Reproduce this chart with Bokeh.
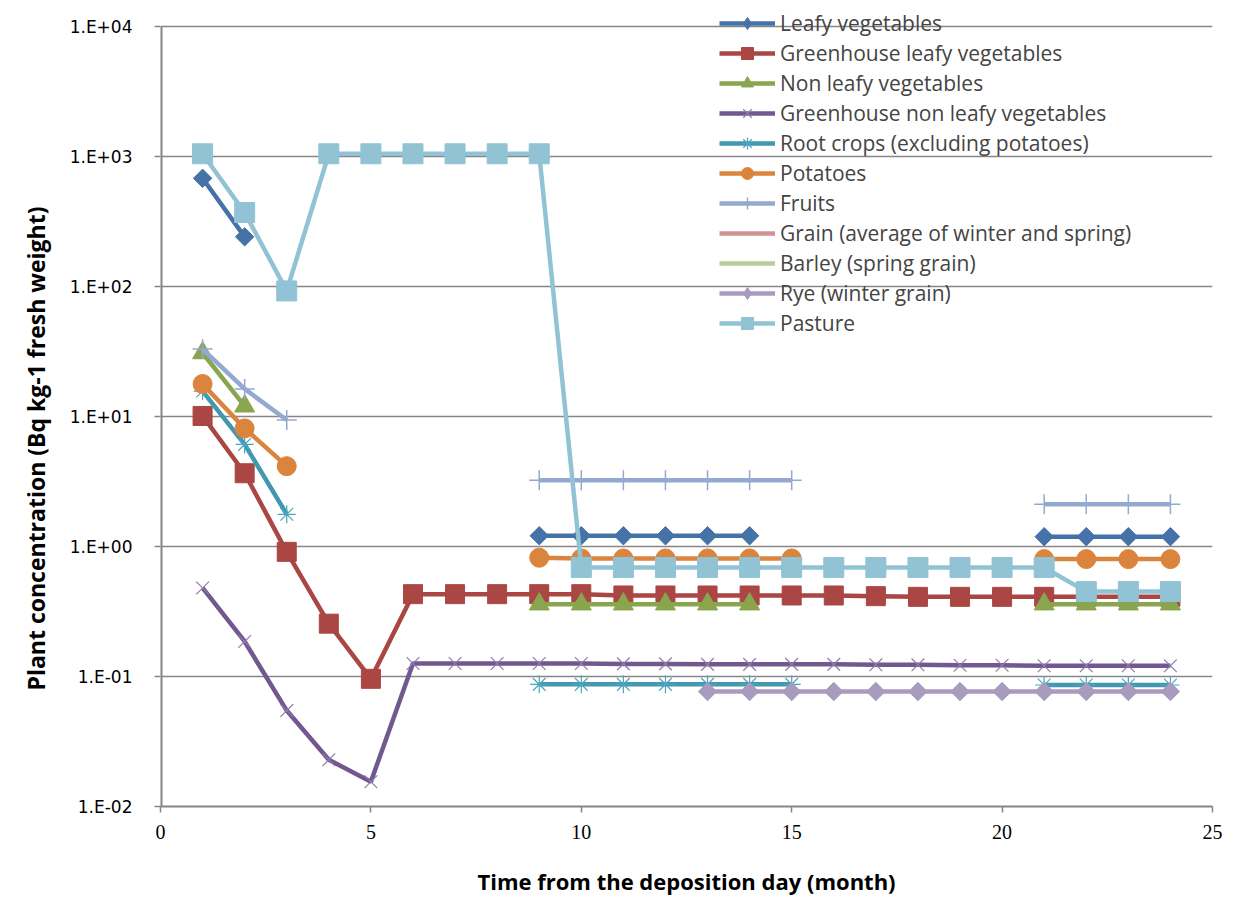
import numpy as np
from bokeh.plotting import figure
from bokeh.models import Legend, LegendItem, CustomJSTickFormatter, FixedTicker, ColumnDataSource, Title
from bokeh.embed import file_html
from bokeh.resources import INLINE

months = list(range(1, 25))
N = None
# values per month 1..24 (None = no value)
leafy = [680, 241, N, N, N, N, N, N, 1.21, 1.21, 1.21, 1.21, 1.21, 1.21, N, N, N, N, N, N, 1.19, 1.19, 1.19, 1.19]
gh_leafy = [10.1, 3.66, 0.91, 0.255, 0.096, 0.43, 0.43, 0.43, 0.43, 0.43, 0.42, 0.42, 0.42, 0.42, 0.42, 0.42, 0.415, 0.41, 0.41, 0.41, 0.41, 0.41, 0.41, 0.41]
nonleafy = [30.8, 12.0, N, N, N, N, N, N, 0.36, 0.36, 0.36, 0.36, 0.36, 0.36, N, N, N, N, N, N, 0.36, 0.36, 0.36, 0.36]
gh_nonleafy = [0.48, 0.186, 0.0547, 0.0229, 0.0155, 0.126, 0.126, 0.126, 0.126, 0.126, 0.125, 0.125, 0.124, 0.124, 0.124, 0.124, 0.123, 0.123, 0.122, 0.122, 0.121, 0.121, 0.121, 0.121]
root = [15.7, 6.1, 1.77, N, N, N, N, N, 0.087, 0.087, 0.087, 0.087, 0.087, 0.087, 0.087, N, N, N, N, N, 0.086, 0.086, 0.086, 0.086]
potatoes = [17.8, 8.1, 4.15, N, N, N, N, N, 0.82, 0.81, 0.81, 0.81, 0.81, 0.81, 0.81, N, N, N, N, N, 0.80, 0.80, 0.80, 0.80]
fruits = [33, 16.3, 9.4, N, N, N, N, N, 3.24, 3.24, 3.24, 3.24, 3.24, 3.24, 3.24, N, N, N, N, N, 2.11, 2.11, 2.11, 2.11]
grain = [N] * 24
barley = [N] * 24
rye = [N, N, N, N, N, N, N, N, N, N, N, N, 0.0766, 0.0766, 0.0766, 0.0766, 0.0766, 0.0766, 0.0766, 0.0766, 0.0766, 0.0766, 0.0766, 0.0766]
pasture = [1050, 371, 92.5, 1050, 1050, 1050, 1050, 1050, 1050, 0.69, 0.69, 0.69, 0.69, 0.69, 0.69, 0.69, 0.69, 0.69, 0.69, 0.69, 0.69, 0.45, 0.45, 0.45]

x_ticks = [0, 5, 10, 15, 20, 25]
y_ticks = [0.01, 0.1, 1, 10, 100, 1000, 10000]
y_title = "Plant concentration (Bq kg-1 fresh weight)"
x_title = "Time from the deposition day (month)"

series = [
    ("Leafy vegetables", leafy, "#4572A7", dict(marker="square", size=13, angle=np.pi / 4, legend_marker="diamond")),
    ("Greenhouse leafy vegetables", gh_leafy, "#AA4643", dict(marker="square", size=19)),
    ("Non leafy vegetables", nonleafy, "#89A54E", dict(marker="triangle", size=20)),
    ("Greenhouse non leafy vegetables", gh_nonleafy, "#71588F", dict(marker="x", size=18, line_width=1.2, line_color="#8E7CAB", fill_alpha=0)),
    ("Root crops (excluding potatoes)", root, "#4198AF", dict(marker="asterisk", size=18, line_width=1.2, line_color="#4BA5BD", fill_alpha=0)),
    ("Potatoes", potatoes, "#DB843D", dict(marker="circle", size=19)),
    ("Fruits", fruits, "#93A9CF", dict(marker="cross", size=20, line_width=1.5)),
    ("Grain (average of winter and spring)", grain, "#D19392", None),
    ("Barley (spring grain)", barley, "#B9CD96", None),
    ("Rye (winter grain)", rye, "#A99BBD", dict(marker="square", size=13, angle=np.pi / 4, legend_marker="diamond")),
    ("Pasture", pasture, "#91C3D5", dict(marker="square", size=20)),
]

# frame reaches a little above 1.E+04 so the legend (which overhangs the top gridline) is not clipped
PX_PER_DECADE = 129.8
TOP_PAD = 21
y_end = y_ticks[-1] * 10 ** (TOP_PAD / PX_PER_DECADE)

p = figure(width=1235, height=899, y_axis_type="log", x_range=(0, 25), y_range=(y_ticks[0], y_end),
           output_backend="svg", toolbar_location=None,
           min_border_left=160, min_border_right=23, min_border_top=26 - TOP_PAD, min_border_bottom=93)
p.outline_line_color = None
p.xgrid.visible = False
p.ygrid.grid_line_color = "#868686"
p.ygrid.grid_line_width = 1.5
p.background_fill_color = "white"

p.xaxis.ticker = FixedTicker(ticks=x_ticks)
p.yaxis.ticker = FixedTicker(ticks=y_ticks)
p.yaxis.formatter = CustomJSTickFormatter(code="""
const e = Math.round(Math.log10(tick));
return "1.E" + (e < 0 ? "-" : "+") + String(Math.abs(e)).padStart(2, "0");
""")
for ax in (p.xaxis[0], p.yaxis[0]):
    ax.axis_line_color = "#868686"
    ax.axis_line_width = 2
    ax.major_tick_line_color = "#868686"
    ax.major_tick_line_width = 1.5
    ax.major_tick_in = 0
    ax.major_tick_out = 6
    ax.minor_tick_line_color = None
    ax.major_label_text_color = "black"
    ax.axis_label_text_color = "black"
    ax.axis_label_text_font_style = "bold"

# vertical axis line only between the first and last tick
p.yaxis.axis_line_color = None
p.segment(x0=[0], y0=[y_ticks[0]], x1=[0], y1=[y_ticks[-1]], line_color="#868686", line_width=4)

p.yaxis.major_label_text_font = "DejaVu Sans"
p.yaxis.major_label_text_font_size = "17px"
p.yaxis.major_label_standoff = 22

p.add_layout(Title(text=y_title, align="left", offset=116, standoff=30,
                   text_font="Open Sans", text_font_size="23px", text_font_style="bold",
                   text_color="black"), "left")

p.xaxis.major_label_text_font = "Liberation Sans Narrow"
p.xaxis.major_label_text_font_size = "20px"
p.xaxis.major_label_standoff = 12
p.xaxis.axis_label = x_title
p.xaxis.axis_label_text_font = "Open Sans"
p.xaxis.axis_label_text_font_size = "22px"
p.xaxis.axis_label_standoff = 24

items = []
for label, vals, color, mk in series:
    y = [np.nan if v is None else v for v in vals]
    src = ColumnDataSource(dict(x=months, y=y))
    rends = []
    rends.append(p.line("x", "y", source=src, line_color=color, line_width=4.5))
    if mk is not None:
        kw = dict(mk)
        marker = kw.pop("marker")
        size = kw.pop("size")
        lc = kw.pop("line_color", color)
        lw = kw.pop("line_width", 1)
        fa = kw.pop("fill_alpha", 1)
        ang = kw.pop("angle", 0)
        lm = kw.pop("legend_marker", None)
        r = p.scatter("x", "y", source=src, marker=marker, size=size, angle=ang,
                      fill_color=color, fill_alpha=fa, line_color=lc, line_width=lw)
        if lm is None:
            rends.append(r)
        else:
            rends.append(p.scatter(x=[np.nan], y=[np.nan], marker=lm, size=size, fill_color=color,
                                   line_color=lc, line_width=lw))
    items.append(LegendItem(label=label, renderers=rends))

legend = Legend(items=items, location=(559, 468), padding=0, margin=0, spacing=0,
                glyph_width=56, glyph_height=30, label_height=30, label_standoff=5,
                label_text_font="Open Sans", label_text_font_size="21px",
                background_fill_alpha=0, border_line_alpha=0)
p.add_layout(legend)

open("out.html", "w").write(file_html(p, INLINE))
